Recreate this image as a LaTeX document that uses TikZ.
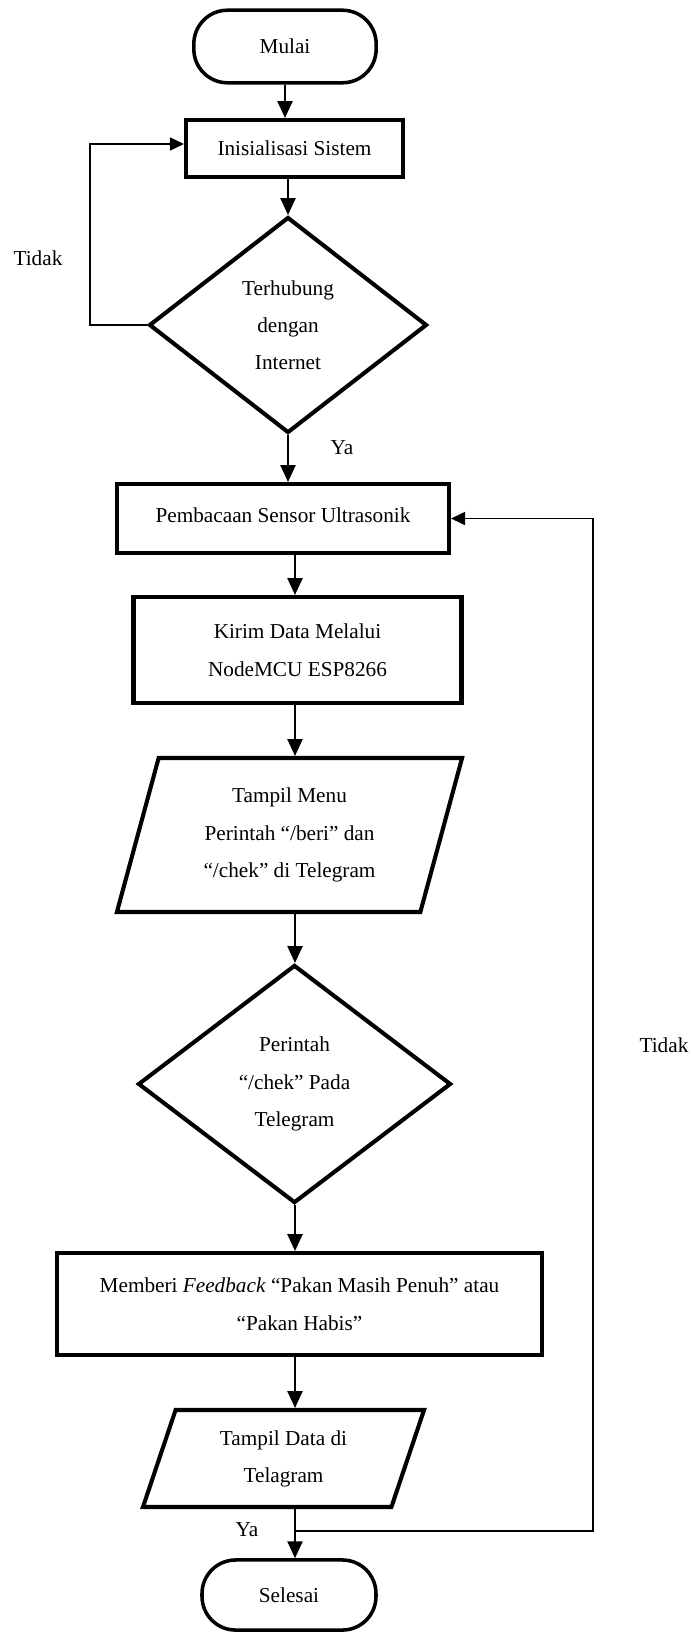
\documentclass[tikz,border=0pt]{standalone}
\usepackage{fontspec}
\setmainfont{Liberation Serif}
\usetikzlibrary{arrows.meta,shapes.geometric}

\begin{document}
\begin{tikzpicture}[x=0.565pt, y=-0.565pt, font=\fontsize{12}{21}\selectfont,
    terminal/.style={draw, line width=2pt, rounded corners=19pt, inner sep=0pt},
    proses/.style={draw, line width=2.3pt, inner sep=0pt, align=center},
    keputusan/.style={draw, diamond, line width=2.3pt, inner sep=0pt, align=center},
    data/.style={draw, trapezium, trapezium stretches body, line width=2.3pt, inner sep=0pt, align=center},
    panah/.style={line width=1.1pt, -{Triangle[length=9.5pt,width=8.5pt]}},
    balik/.style={line width=0.8pt, -{Triangle[length=8pt,width=7.5pt]}}]
          \useasboundingbox (0,0) rectangle (690,1632);
          \node[terminal, minimum width=103pt, minimum height=41pt] (mulai) at (285,46.5) {Mulai};
          \node[proses, minimum width=122.6pt, minimum height=32.2pt] (inis) at (294.5,148.5) {Inisialisasi Sistem};
          \node[keputusan, minimum width=157pt, minimum height=122pt] (dia1) at (288,325) {Terhubung\\dengan\\Internet};
          \node[proses, minimum width=187.6pt, minimum height=39pt] (pemb) at (283,518.5) {\raisebox{3.4pt}{Pembacaan Sensor Ultrasonik}};
          \node[proses, minimum width=185.3pt, minimum height=59.9pt] (kirim) at (297.5,650) {\raisebox{3.7pt}{\begin{tabular}{@{}c@{}}Kirim Data Melalui\\NodeMCU ESP8266\end{tabular}}};
          \node[data, trapezium left angle=66, trapezium right angle=114, minimum width=195pt, minimum height=87pt] (menu) at (289.5,835) {Tampil Menu\\Perintah “/beri” dan\\“/chek” di Telegram};
          \node[keputusan, minimum width=176.8pt, minimum height=134.5pt] (dia2) at (294.5,1084) {Perintah\\“/chek” Pada\\Telegram};
          \node[proses, minimum width=274pt, minimum height=57.6pt] (feedback) at (299.5,1304) {\raisebox{3.4pt}{\begin{tabular}{@{}c@{}}Memberi \textit{Feedback} “Pakan Masih Penuh” atau\\“Pakan Habis”\end{tabular}}};
          \node[data, trapezium left angle=60, trapezium right angle=120, minimum width=158.8pt, minimum height=54.8pt] (tampil) at (283.5,1458.5) {Tampil Data di\\Telagram};
          \node[terminal, minimum width=98.3pt, minimum height=39.6pt] (selesai) at (289,1595) {Selesai};

          \node (tidak1) at (38,258) {Tidak};
          \node (ya1) at (342,448) {Ya};
          \node (tidak2) at (664,1045) {Tidak};
          \node (ya2) at (247,1530) {Ya};

          \coordinate (jalur) at (295,0);
          \coordinate (kiri) at (90,144);
          \coordinate (cabang) at (295,1531);
          \coordinate (kanan) at (593,1531);

          \draw[panah] (mulai.south) -- (mulai.south |- inis.north);
          \draw[panah] (dia1.north |- inis.south) -- (dia1.north);
          \draw[balik] (dia1.west) -| (kiri) -- (inis.west |- kiri);
          \draw[panah] (dia1.south) -- (dia1.south |- pemb.north);
          \draw[panah] (jalur |- pemb.south) -- (jalur |- kirim.north);
          \draw[panah] (jalur |- kirim.south) -- (jalur |- menu.north);
          \draw[panah] (jalur |- menu.south) -- (jalur |- dia2.north);
          \draw[panah] (jalur |- dia2.south) -- (jalur |- feedback.north);
          \draw[panah] (jalur |- feedback.south) -- (jalur |- tampil.north);
          \draw[panah] (jalur |- tampil.south) -- (jalur |- selesai.north);
          \draw[balik] (cabang) -- (kanan) |- (pemb.east);
        \end{tikzpicture}
\end{document}
